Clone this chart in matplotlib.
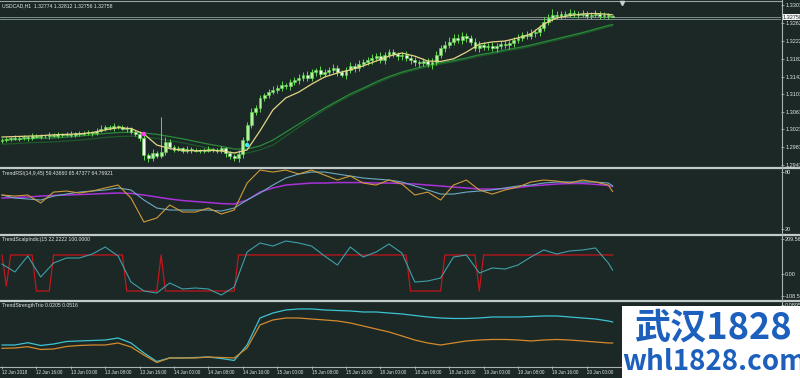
import numpy as np
import matplotlib
matplotlib.use("Agg")
import matplotlib.pyplot as plt
from matplotlib.lines import Line2D
from matplotlib.patches import Rectangle
from matplotlib.transforms import blended_transform_factory

# ---------------- data ----------------
symbol_title = "USDCAD,H1  1.32774 1.32812 1.32756 1.32758"
rsi_title = "TrendRSI(14,9,45) 59.43660 65.47377 64.76921"
scalp_title = "TrendScalpIndic(15 22.2222 100.0000"
strength_title = "TrendStrengthTrio 0.0205 0.0516"

first_open = 1.2997
closes = [1.2999, 1.3002, 1.3004, 1.3002, 1.3004, 1.3006, 1.3004, 1.3008, 1.3006, 1.3008,
          1.3008, 1.3011, 1.3008, 1.3013, 1.3011, 1.3013, 1.3011, 1.3015, 1.3013, 1.3015,
          1.3017, 1.3015, 1.3020, 1.3024, 1.3029, 1.3026, 1.3031, 1.3029, 1.3024, 1.3026,
          1.3017, 1.3013, 1.3004, 1.2966, 1.2959, 1.2970, 1.2963, 1.2972, 1.2995, 1.2984,
          1.2977, 1.2981, 1.2975, 1.2979, 1.2977, 1.2975, 1.2977, 1.2975, 1.2979, 1.2977,
          1.2975, 1.2981, 1.2970, 1.2963, 1.2959, 1.2968, 1.2999, 1.3033, 1.3062, 1.3071,
          1.3094, 1.3101, 1.3107, 1.3112, 1.3116, 1.3123, 1.3121, 1.3130, 1.3134, 1.3139,
          1.3146, 1.3139, 1.3152, 1.3157, 1.3148, 1.3152, 1.3157, 1.3161, 1.3152, 1.3146,
          1.3157, 1.3166, 1.3161, 1.3170, 1.3175, 1.3179, 1.3184, 1.3188, 1.3179, 1.3191,
          1.3197, 1.3193, 1.3188, 1.3191, 1.3184, 1.3179, 1.3175, 1.3173, 1.3177, 1.3170,
          1.3175, 1.3191, 1.3206, 1.3213, 1.3220, 1.3229, 1.3224, 1.3233, 1.3229, 1.3220,
          1.3206, 1.3213, 1.3209, 1.3211, 1.3206, 1.3211, 1.3215, 1.3213, 1.3218, 1.3224,
          1.3229, 1.3236, 1.3233, 1.3240, 1.3242, 1.3251, 1.3265, 1.3274, 1.3281, 1.3278,
          1.3283, 1.3281, 1.3285, 1.3283, 1.3281, 1.3283, 1.3278, 1.3281, 1.3283, 1.3278,
          1.3281, 1.32774, 1.32758]
# wick lengths in pips above max(open, close) and below min(open, close)
upper_wick = [4, 5, 3, 6, 4, 5, 3, 7, 4, 5, 3, 6, 4, 5, 3, 4, 6, 3, 5, 4,
              5, 3, 6, 8, 5, 4, 6, 3, 5, 4, 3, 4, 6, 8, 5, 9, 4, 79, 10, 6,
              4, 5, 3, 6, 4, 5, 3, 4, 6, 3, 5, 4, 3, 4, 5, 8, 6, 7, 9, 8,
              6, 5, 7, 8, 6, 9, 5, 7, 6, 8, 6, 9, 7, 5, 8, 6, 7, 9, 6, 5,
              7, 8, 6, 9, 7, 6, 8, 7, 10, 6, 8, 7, 5, 6, 8, 7, 6, 5, 7, 6,
              9, 8, 7, 10, 12, 9, 8, 10, 7, 6, 9, 8, 7, 6, 8, 7, 6, 9, 7, 8,
              8, 7, 9, 8, 7, 6, 10, 9, 12, 8, 7, 6, 8, 7, 6, 8, 7, 6, 8, 7,
              6, 5, 4]
lower_wick = [5, 4, 6, 3, 5, 4, 6, 4, 3, 5, 4, 6, 3, 5, 4, 3, 5, 6, 4, 3,
              4, 6, 5, 3, 4, 5, 6, 4, 3, 6, 5, 4, 6, 12, 10, 6, 5, 4, 7, 5,
              4, 3, 5, 4, 6, 3, 4, 5, 3, 4, 5, 6, 8, 7, 6, 9, 10, 5, 6, 7,
              8, 6, 7, 5, 8, 6, 7, 9, 6, 8, 7, 8, 6, 9, 7, 8, 6, 7, 8, 6,
              9, 7, 8, 6, 7, 8, 9, 6, 7, 8, 7, 6, 8, 9, 7, 8, 10, 9, 8, 7,
              12, 6, 8, 9, 7, 8, 6, 9, 10, 8, 7, 9, 8, 7, 6, 8, 7, 6, 8, 9,
              7, 8, 6, 7, 9, 8, 7, 6, 8, 7, 6, 7, 5, 6, 7, 5, 6, 7, 5, 6,
              5, 6, 0]

# indicator samples (every 3rd bar plus the last bar)
fast_ma = [1.3006, 1.3007, 1.3008, 1.3009, 1.3011, 1.3012, 1.3013, 1.3016, 1.3022, 1.3027,
           1.3025, 1.3013, 1.2988, 1.2980, 1.2976, 1.2975, 1.2976, 1.2975, 1.2970, 1.2977,
           1.3020, 1.3067, 1.3094, 1.3107, 1.3125, 1.3141, 1.3150, 1.3157, 1.3166, 1.3177,
           1.3188, 1.3195, 1.3188, 1.3177, 1.3176, 1.3182, 1.3197, 1.3215, 1.3220, 1.3222,
           1.3229, 1.3238, 1.3260, 1.3274, 1.3279, 1.3283, 1.3284, 1.3282, 1.3281]
slow_ma = [1.2999, 1.3000, 1.3002, 1.3003, 1.3004, 1.3006, 1.3008, 1.3011, 1.3014, 1.3016,
           1.3017, 1.3015, 1.3012, 1.3007, 1.3002, 1.2996, 1.2990, 1.2985, 1.2979, 1.2979,
           1.2986, 1.2999, 1.3017, 1.3035, 1.3053, 1.3071, 1.3087, 1.3103, 1.3116, 1.3130,
           1.3142, 1.3152, 1.3160, 1.3167, 1.3173, 1.3178, 1.3184, 1.3191, 1.3196, 1.3202,
           1.3207, 1.3213, 1.3220, 1.3227, 1.3234, 1.3241, 1.3249, 1.3257, 1.3259]
slow_ma2 = [1.2990, 1.2991, 1.2993, 1.2994, 1.2995, 1.2997, 1.2999, 1.3002, 1.3005, 1.3007,
            1.3008, 1.3006, 1.3003, 1.2998, 1.2993, 1.2987, 1.2981, 1.2976, 1.2970, 1.2970,
            1.2977, 1.2988, 1.3008, 1.3028, 1.3048, 1.3067, 1.3084, 1.3099, 1.3113, 1.3126,
            1.3139, 1.3149, 1.3157, 1.3164, 1.3170, 1.3175, 1.3181, 1.3188, 1.3193, 1.3199,
            1.3204, 1.3210, 1.3217, 1.3224, 1.3231, 1.3238, 1.3246, 1.3254, 1.3256]
signal_bars = [33, 57]
signal_prices = [1.3013, 1.2988]
price_lines = [1.32758, 1.32715]
price_ticks = [1.33030, 1.32620, 1.32220, 1.31820, 1.31420, 1.31030, 1.30630, 1.30230, 1.29830, 1.29430]

rsi_fast = [55.8, 54.7, 55.8, 47.4, 58.9, 60.0, 57.9, 60.0, 63.2, 66.3,
            52.6, 27.4, 31.6, 45.3, 37.9, 37.9, 42.1, 35.8, 40.0, 68.4,
            82.1, 80.0, 82.1, 77.9, 82.1, 76.8, 71.6, 75.8, 68.4, 66.3,
            71.6, 67.4, 55.8, 58.9, 50.5, 66.3, 71.6, 61.1, 56.8, 61.1,
            64.2, 69.5, 71.6, 70.5, 68.4, 71.6, 69.5, 66.3, 59.44]
rsi_mid = [55.8, 52.6, 51.6, 50.5, 54.7, 56.8, 58.9, 60.0, 61.1, 63.2,
           61.1, 50.5, 42.1, 40.0, 40.0, 40.0, 40.0, 38.9, 42.1, 50.5,
           57.9, 66.3, 73.7, 77.9, 80.0, 80.0, 77.9, 75.8, 73.7, 72.6,
           71.6, 69.5, 65.3, 61.1, 56.8, 56.8, 58.9, 60.0, 61.1, 63.2,
           65.3, 66.3, 68.4, 69.5, 69.5, 69.5, 69.5, 68.4, 65.47]
rsi_slow = [52.6, 53.2, 53.7, 54.7, 55.3, 55.8, 56.3, 56.8, 57.4, 57.9,
            57.4, 55.8, 53.7, 51.6, 50.0, 48.9, 47.9, 46.8, 46.3, 50.5,
            58.9, 63.2, 66.3, 67.4, 68.4, 68.4, 68.9, 68.9, 68.9, 68.4,
            68.4, 67.9, 67.4, 66.3, 65.3, 64.2, 63.2, 62.1, 62.1, 62.6,
            63.7, 65.3, 66.3, 67.4, 67.9, 67.9, 67.0, 65.8, 64.77]
rsi_levels = [80, 20]

scalp_line = [53.7, 12.6, 94.9, -13.0, 58.9, 84.6, 84.6, 105.0, 141.0, 95.0,
              -38.8, -85.0, -95.3, -43.9, -74.7, -69.6, -74.7, -105.6, -64.4, 115.4,
              161.7, 146.0, 172.0, 161.7, 146.0, 95.0, 48.6, 141.0, 89.7, 115.4,
              156.5, 110.0, -38.8, -33.6, -18.2, 89.7, 100.0, 7.5, 33.2, 28.0,
              48.6, 89.7, 125.7, 105.0, 120.6, 125.7, 136.0, 58.9, 22.2222]
# trend state per bar, as run-length (level, number of bars)
trend_levels = [100, -60, 100, -85, 100, -85, 100, -85, 100, -85, 100, -85, 100]
trend_runs = [1, 1, 6, 4, 17, 8, 1, 17, 40, 8, 8, 1, 31]
scalp_labels = ["209.563", "0.00", "-108.54"]

strength_a = [0.0175, 0.0175, 0.0209, 0.0168, 0.0190, 0.0227, 0.0235, 0.0242, 0.0249, 0.0279,
              0.0205, 0.0057, -0.0069, -0.0017, -0.0017, -0.0010, -0.0003, -0.0025, -0.0054, 0.0175,
              0.0575, 0.0649, 0.0694, 0.0709, 0.0709, 0.0694, 0.0686, 0.0679, 0.0664, 0.0664,
              0.0649, 0.0635, 0.0612, 0.0590, 0.0575, 0.0568, 0.0568, 0.0575, 0.0590, 0.0590,
              0.0590, 0.0597, 0.0605, 0.0605, 0.0590, 0.0575, 0.0560, 0.0531, 0.0516]
strength_b = [0.0126, 0.0131, 0.0150, 0.0109, 0.0116, 0.0153, 0.0168, 0.0175, 0.0175, 0.0205,
              0.0146, 0.0027, -0.0084, -0.0017, -0.0017, -0.0017, -0.0003, -0.0010, -0.0017, 0.0131,
              0.0472, 0.0546, 0.0575, 0.0575, 0.0560, 0.0546, 0.0531, 0.0501, 0.0457, 0.0412,
              0.0368, 0.0309, 0.0249, 0.0205, 0.0175, 0.0205, 0.0235, 0.0249, 0.0257, 0.0257,
              0.0249, 0.0235, 0.0249, 0.0257, 0.0249, 0.0235, 0.0220, 0.0205, 0.0205]

time_tick_bars = [0, 8, 16, 24, 32, 40, 48, 56, 64, 72, 80, 88, 96, 104, 112, 120, 128, 136]
time_tick_labels = ["12 Jun 2018", "12 Jun 16:00", "13 Jun 00:00", "13 Jun 08:00", "13 Jun 16:00",
                    "14 Jun 00:00", "14 Jun 08:00", "14 Jun 16:00", "15 Jun 00:00", "15 Jun 08:00",
                    "15 Jun 16:00", "18 Jun 00:00", "18 Jun 08:00", "18 Jun 16:00", "19 Jun 00:00",
                    "19 Jun 08:00", "19 Jun 16:00", "20 Jun 00:00"]

# ---------------- style ----------------
BG = "#1b2826"
TXT = "#e2e6e6"
SEP = "#c4caca"
AXC = "#aab2b2"
plt.rcParams["font.family"] = ["Liberation Sans", "DejaVu Sans"]

W, H = 800.0, 378.0
fig = plt.figure(figsize=(8, 3.78), dpi=100, facecolor=BG)


def fx(px):
    return px / W


def fy(py):
    return 1 - py / H


def make_ax(top, bottom):
    ax = fig.add_axes([0, fy(bottom), 781 / W, (bottom - top) / H])
    ax.set_facecolor(BG)
    for s in ax.spines.values():
        s.set_visible(False)
    ax.set_xlim(-2 / 4.3, 779 / 4.3)
    ax.yaxis.tick_right()
    ax.tick_params(axis="y", colors=AXC, labelcolor=TXT, labelsize=4.0, length=2,
                   width=0.6, pad=1, direction="out")
    ax.tick_params(axis="x", bottom=False, labelbottom=False)
    return ax


bars = np.arange(len(closes))
grid = list(range(0, 142, 3)) + [142]

# ---------------- main chart ----------------
ax1 = make_ax(2, 166)
ax1.set_ylim(1.29408, 1.33098)
o = np.array([first_open] + closes[:-1])
c = np.array(closes)
hi = np.maximum(o, c) + np.array(upper_wick) * 0.0001
lo = np.minimum(o, c) - np.array(lower_wick) * 0.0001
WICK = "#5fd84a"
ax1.plot(grid, slow_ma2, color="#1d5a2a", lw=0.9, zorder=2)
ax1.plot(grid, slow_ma, color="#2b8a3a", lw=0.9, zorder=2)
ax1.vlines(bars, lo, hi, color=WICK, lw=0.7, zorder=3)
bull = c >= o
body = np.maximum(np.abs(c - o), 0.00005)
ax1.bar(bars[bull], body[bull], bottom=o[bull], width=0.66, color="#b4eea0",
        edgecolor=WICK, lw=0.4, zorder=4)
ax1.bar(bars[~bull], body[~bull], bottom=c[~bull], width=0.66, color="#f2fff0",
        edgecolor=WICK, lw=0.4, zorder=4)
ax1.plot(grid, fast_ma, color="#e4d486", lw=0.9, zorder=5)
ax1.scatter(signal_bars, signal_prices, s=10, c=["#ff3cf0", "#3ce8ff"], zorder=6, linewidths=0)
for p in price_lines:
    ax1.axhline(p, color="#8e9c9c", lw=0.6, zorder=1)
ax1.set_yticks(price_ticks)
ax1.set_yticklabels([f"{t:.5f}" for t in price_ticks])
bt = blended_transform_factory(ax1.transAxes, ax1.transData)
ax1.text(1.002, price_lines[0], f"{price_lines[0]:.5f}", transform=bt, fontsize=4.0,
         color="#1b2826", va="center", ha="left",
         bbox=dict(boxstyle="square,pad=0.15", fc="#f4f4f4", ec="none"), zorder=7)
TFS = 3.7
fig.text(fx(2), fy(6), symbol_title, fontsize=TFS, color=TXT, va="center", ha="left")

# ---------------- TrendRSI ----------------
ax2 = make_ax(169, 233)
ax2.set_ylim(15.8, 83.2)
ax2.plot(grid, rsi_slow, color="#a832d8", lw=1.1)
ax2.plot(grid, rsi_mid, color="#6fa9c4", lw=0.8)
ax2.plot(grid, rsi_fast, color="#d19a3a", lw=0.8)
ax2.set_yticks(rsi_levels)
ax2.set_yticklabels([str(v) for v in rsi_levels])
fig.text(fx(2), fy(174), rsi_title, fontsize=TFS, color=TXT, va="center", ha="left")

# ---------------- TrendScalpIndic ----------------
ax3 = make_ax(236, 299)
ax3.set_ylim(-126.1, 197.6)
trend_state = np.repeat(trend_levels, trend_runs)
ax3.plot(bars, trend_state, color="#c4161c", lw=0.9)
ax3.plot(grid, scalp_line, color="#3f9fa8", lw=0.8)
ax3.set_yticks([182.2, 0, -110.7])
ax3.set_yticklabels(scalp_labels)
fig.text(fx(2), fy(240), scalp_title, fontsize=TFS, color=TXT, va="center", ha="left")

# ---------------- TrendStrengthTrio ----------------
ax4 = make_ax(302, 366)
ax4.set_ylim(-0.0136, 0.0812)
ax4.plot(grid, strength_a, color="#3cc3d2", lw=0.9)
ax4.plot(grid, strength_b, color="#d38a2c", lw=0.9)
ax4.set_yticks([0.0768])
ax4.set_yticklabels(["0.0895"])
ax4.set_xticks(time_tick_bars)
ax4.set_xticklabels(time_tick_labels, ha="left")
ax4.tick_params(axis="x", bottom=True, labelbottom=True, colors=AXC, labelcolor=TXT,
                labelsize=3.3, length=2, width=0.6, pad=1.2, direction="out")
fig.text(fx(2), fy(306), strength_title, fontsize=TFS, color=TXT, va="center", ha="left")

# ---------------- frame lines ----------------
def hline(py, x0, x1, lw, color):
    fig.add_artist(Line2D([fx(x0), fx(x1)], [fy(py), fy(py)], transform=fig.transFigure,
                          color=color, lw=lw))


hline(1, 0, 781, 0.8, "#9aa4a4")
for py in (167.5, 234.5, 300.5):
    hline(py, 0, 800, 1.6, SEP)
hline(366.5, 0, 781, 0.8, AXC)
fig.add_artist(Line2D([fx(781.5), fx(781.5)], [fy(0), fy(367)], transform=fig.transFigure,
                      color=AXC, lw=0.8))
fig.add_artist(Line2D([fx(622)], [fy(3)], transform=fig.transFigure, marker="v",
                      ms=3, color="#c8d0d0", lw=0))

# ---------------- watermark ----------------
fig.add_artist(Rectangle((fx(622), fy(378)), fx(800) - fx(622), fy(306) - fy(378),
                         transform=fig.transFigure, facecolor="white", edgecolor="none", zorder=10))
fig.text(fx(714), fy(328), "武汉1828", fontsize=26, fontweight="bold", color="#1c5fbd",
         family=["Noto Sans CJK SC", "DejaVu Sans"], ha="center", va="center", zorder=11)
fig.text(fx(714), fy(362), "whl1828.com", fontsize=20, fontweight="bold", color="#1c5fbd",
         family=["Noto Sans CJK SC", "DejaVu Sans"], ha="center", va="center", zorder=11)

fig.savefig("out.png", dpi=100, facecolor=BG)
